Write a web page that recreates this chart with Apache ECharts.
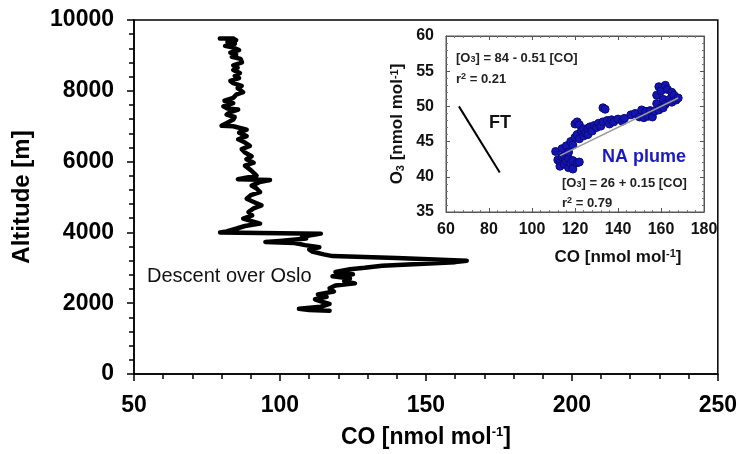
<!DOCTYPE html>
<html>
<head>
<meta charset="utf-8">
<script src="https://cdn.jsdelivr.net/npm/echarts@6/dist/echarts.min.js"></script>
<style>html,body{margin:0;padding:0;background:#fff;}#c{width:740px;height:454px;}</style>
</head>
<body>
<div id="c"></div>
<script>
// Main profile: CO [nmol/mol] vs altitude [m] (descent over Oslo)
const profileCO = [79.4,84,85,82,84.6,81.2,84,86,83,85,83.5,86.5,87,84,85.5,84,86.3,84.5,86,83,84,86.9,85.5,87.4,85,84,81,84,80.6,82,85.7,83,81.7,84.5,84,82,80,84,
  88.6,86,88.6,85.7,88,89.7,86.9,88,90.3,88.5,91,88,90,92,85.6,96.6,93,90.3,92,93.2,90,88.6,91,93.7,91,89.2,90.5,87.4,93.2,88,85.2,81.7,79.5,
  114,110.5,107.5,109,100,95,105,108.6,113.5,110,111,115,118,140,164,160,135,129,124,119,125,118,124,122,125.7,119,117,118.5,113,116,112,114,117,114,106.5,110,117];
const profileAlt = [9475,9475,9430,9380,9330,9270,9220,9150,9080,9020,8961,8900,8800,8720,8650,8588,8500,8420,8360,8280,8215,8140,8075,7960,7890,7800,7720,7650,7560,7500,7469,7400,7329,7260,7189,7100,7010,7000,
  6900,6816,6720,6629,6540,6443,6350,6256,6150,6069,5970,5883,5760,5603,5500,5480,5420,5323,5240,5137,5050,4950,4860,4763,4680,4577,4480,4390,4250,4180,4110,4030,3995,
  3965,3920,3875,3830,3760,3730,3700,3641,3580,3520,3460,3380,3330,3280,3200,3160,3060,3000,2960,2880,2820,2760,2700,2620,2560,2500,2420,2330,2250,2180,2110,2050,1980,1900,1840,1810,1790];

// Inset: O3 vs CO scatter for NA plume
const plumeCO = [111,112,113,113,114,115,115,116,117,117,118,119,119,121,122,114,116,117,
  118,119,120,120,121,122,121,122,123,124,124,125,126,126,127,128,129,130,131,132,133,134,133,135,136,137,138,140,142,143,146,148,
  150,151,152,153,154,155,156,157,158,158,159,160,160,161,162,162,163,164,165,165,166,167,168,159,161];
const plumeO3 = [43.6,42.4,42.0,41.5,42.8,41.8,43.0,42.2,41.3,42.6,41.9,41.1,42.3,42.0,42.1,44.0,44.4,43.5,
  45.0,44.5,45.6,47.5,47.8,47.4,46.0,45.4,46.5,45.8,46.8,46.2,46.0,46.9,47.1,46.5,47.3,47.0,47.6,47.2,49.8,49.6,47.8,48.0,47.5,48.1,47.8,48.2,47.9,48.3,48.8,49.0,
  48.5,49.5,48.4,49.3,48.6,49.4,48.5,49.3,50.4,51.6,52.8,52.2,49.8,51.0,53.0,50.3,52.4,51.0,50.6,52.0,51.6,50.9,51.2,49.5,49.8];
// Regression line endpoints
const ftCO = [66, 85];
const ftO3 = [50.0, 40.6];
const naFitCO = [113, 168];
const naFitO3 = [43.0, 51.2];

const mainXTicks = {min: 50, max: 250, interval: 50};
const mainYTicks = {min: 0, max: 10000, interval: 2000};
const insetXTicks = {min: 60, max: 180, interval: 20};
const insetYTicks = {min: 35, max: 60, interval: 5};

const FF = 'Arial, "Liberation Sans", sans-serif';
const zip = (a, b) => a.map((v, i) => [v, b[i]]);
const plain = v => String(v);

const chart = echarts.init(document.getElementById('c'), null, {renderer: 'canvas'});

const mainAxisCommon = {
  axisLine: {show: true, lineStyle: {color: '#000', width: 1.5}},
  axisTick: {show: true, inside: false, length: 7, lineStyle: {color: '#000', width: 1.5}},
  minorTick: {show: true, splitNumber: 5, length: 5, lineStyle: {color: '#000', width: 1.5}},
  splitLine: {show: false},
  minorSplitLine: {show: false}
};
const insetAxisCommon = {
  gridIndex: 1,
  axisLine: {show: true, lineStyle: {color: '#555', width: 1}},
  axisTick: {show: true, inside: true, length: 4, lineStyle: {color: '#555', width: 1}},
  minorTick: {show: true, splitNumber: 5, length: 2, lineStyle: {color: '#777', width: 1}},
  splitLine: {show: false}
};

const supRich = (big, small) => ({
  b: {fontSize: big, fontWeight: 'bold', fontFamily: FF, color: '#000'},
  s: {fontSize: small, fontWeight: 'bold', fontFamily: FF, color: '#000', verticalAlign: 'top'}
});

chart.setOption({
  animation: false,
  backgroundColor: '#fff',
  grid: [
    {left: 134, top: 20, width: 584, height: 357, show: true, borderColor: '#000', borderWidth: 1.5, backgroundColor: 'transparent'},
    {left: 446, top: 36, width: 258, height: 176, show: true, borderColor: '#555', borderWidth: 1, backgroundColor: 'transparent'}
  ],
  xAxis: [
    Object.assign({}, mainAxisCommon, {
      gridIndex: 0, type: 'value', min: mainXTicks.min, max: mainXTicks.max, interval: mainXTicks.interval,
      axisLabel: {margin: 20, fontSize: 23, fontWeight: 'bold', color: '#000', fontFamily: FF, formatter: plain},
      name: '{b|CO [nmol mol}{s|-1}{b|]}', nameLocation: 'middle', nameGap: 52,
      nameTextStyle: {rich: supRich(23, 13)}
    }),
    Object.assign({}, insetAxisCommon, {
      type: 'value', position: 'bottom', min: insetXTicks.min, max: insetXTicks.max, interval: insetXTicks.interval,
      axisLabel: {margin: 10, fontSize: 16, fontWeight: 'bold', color: '#111', fontFamily: FF, formatter: plain}
    }),
    Object.assign({}, insetAxisCommon, {
      type: 'value', position: 'top', min: insetXTicks.min, max: insetXTicks.max, interval: insetXTicks.interval,
      axisLabel: {show: false}
    })
  ],
  yAxis: [
    Object.assign({}, mainAxisCommon, {
      gridIndex: 0, type: 'value', min: mainYTicks.min, max: mainYTicks.max, interval: mainYTicks.interval,
      axisLabel: {margin: 20, fontSize: 23, fontWeight: 'bold', color: '#000', fontFamily: FF, formatter: plain},
      name: 'Altitude [m]', nameLocation: 'middle', nameGap: 100,
      nameTextStyle: {fontSize: 24, fontWeight: 'bold', color: '#000', fontFamily: FF}
    }),
    Object.assign({}, insetAxisCommon, {
      type: 'value', position: 'left', min: insetYTicks.min, max: insetYTicks.max, interval: insetYTicks.interval,
      axisLabel: {margin: 12, fontSize: 16, fontWeight: 'bold', color: '#111', fontFamily: FF, formatter: plain},
      name: '{b|O}{d|3}{b| [nmol mol}{s|-1}{b|]}', nameLocation: 'middle', nameGap: 40,
      nameTextStyle: {rich: {
        b: {fontSize: 17, fontWeight: 'bold', fontFamily: FF, color: '#111'},
        d: {fontSize: 11, fontWeight: 'bold', fontFamily: FF, color: '#111', verticalAlign: 'bottom'},
        s: {fontSize: 11, fontWeight: 'bold', fontFamily: FF, color: '#111', verticalAlign: 'top'}
      }}
    }),
    Object.assign({}, insetAxisCommon, {
      type: 'value', position: 'right', min: insetYTicks.min, max: insetYTicks.max, interval: insetYTicks.interval,
      axisLabel: {show: false}
    })
  ],
  series: [
    {
      type: 'line', xAxisIndex: 0, yAxisIndex: 0, data: zip(profileCO, profileAlt),
      showSymbol: false, symbol: 'none', lineStyle: {color: '#000', width: 4.5, join: 'round', cap: 'round'}, z: 3
    },
    {
      type: 'scatter', xAxisIndex: 1, yAxisIndex: 1, data: zip(plumeCO, plumeO3),
      symbolSize: 8, itemStyle: {color: '#1414b4', borderColor: '#0a0a70', borderWidth: 1, opacity: 1}, z: 4
    },
    {
      type: 'line', xAxisIndex: 1, yAxisIndex: 1, data: zip(naFitCO, naFitO3),
      symbol: 'none', lineStyle: {color: '#9a9a9a', width: 1.5}, z: 5
    },
    {
      type: 'line', xAxisIndex: 1, yAxisIndex: 1, data: zip(ftCO, ftO3),
      symbol: 'none', lineStyle: {color: '#000', width: 2}, z: 5
    }
  ],
  graphic: [
    {type: 'text', x: 147, y: 276, style: {text: 'Descent over Oslo', font: '20px ' + FF, fill: '#111', textVerticalAlign: 'middle'}},
    {type: 'text', x: 618, y: 257, style: {text: '{b|CO [nmol mol}{s|-1}{b|]}', textAlign: 'center', textVerticalAlign: 'middle',
      rich: {b: {fontSize: 17, fontWeight: 'bold', fontFamily: FF, fill: '#111'}, s: {fontSize: 11, fontWeight: 'bold', fontFamily: FF, fill: '#111', verticalAlign: 'top'}}}},
    {type: 'text', x: 456, y: 58, z: 10, style: {text: '{b|[O}{d|3}{b|] = 84 - 0.51 [CO]}', textVerticalAlign: 'middle',
      rich: {b: {fontSize: 13, fontWeight: 'bold', fontFamily: FF, fill: '#222'}, d: {fontSize: 9, fontWeight: 'bold', fontFamily: FF, fill: '#222', verticalAlign: 'bottom'}}}},
    {type: 'text', x: 456, y: 79, z: 10, style: {text: '{b|r}{s|2}{b| = 0.21}', textVerticalAlign: 'middle',
      rich: {b: {fontSize: 13, fontWeight: 'bold', fontFamily: FF, fill: '#222'}, s: {fontSize: 9, fontWeight: 'bold', fontFamily: FF, fill: '#222', verticalAlign: 'top'}}}},
    {type: 'text', x: 489, y: 123, z: 10, style: {text: 'FT', font: 'bold 18px ' + FF, fill: '#111', textVerticalAlign: 'middle'}},
    {type: 'text', x: 602, y: 157, z: 10, style: {text: 'NA plume', font: 'bold 18px ' + FF, fill: '#1a1ac0', textVerticalAlign: 'middle'}},
    {type: 'text', x: 562, y: 183, z: 10, style: {text: '{b|[O}{d|3}{b|] = 26 + 0.15 [CO]}', textVerticalAlign: 'middle',
      rich: {b: {fontSize: 13, fontWeight: 'bold', fontFamily: FF, fill: '#222'}, d: {fontSize: 9, fontWeight: 'bold', fontFamily: FF, fill: '#222', verticalAlign: 'bottom'}}}},
    {type: 'text', x: 562, y: 203, z: 10, style: {text: '{b|r}{s|2}{b| = 0.79}', textVerticalAlign: 'middle',
      rich: {b: {fontSize: 13, fontWeight: 'bold', fontFamily: FF, fill: '#222'}, s: {fontSize: 9, fontWeight: 'bold', fontFamily: FF, fill: '#222', verticalAlign: 'top'}}}}
  ]
});
</script>
</body>
</html>
